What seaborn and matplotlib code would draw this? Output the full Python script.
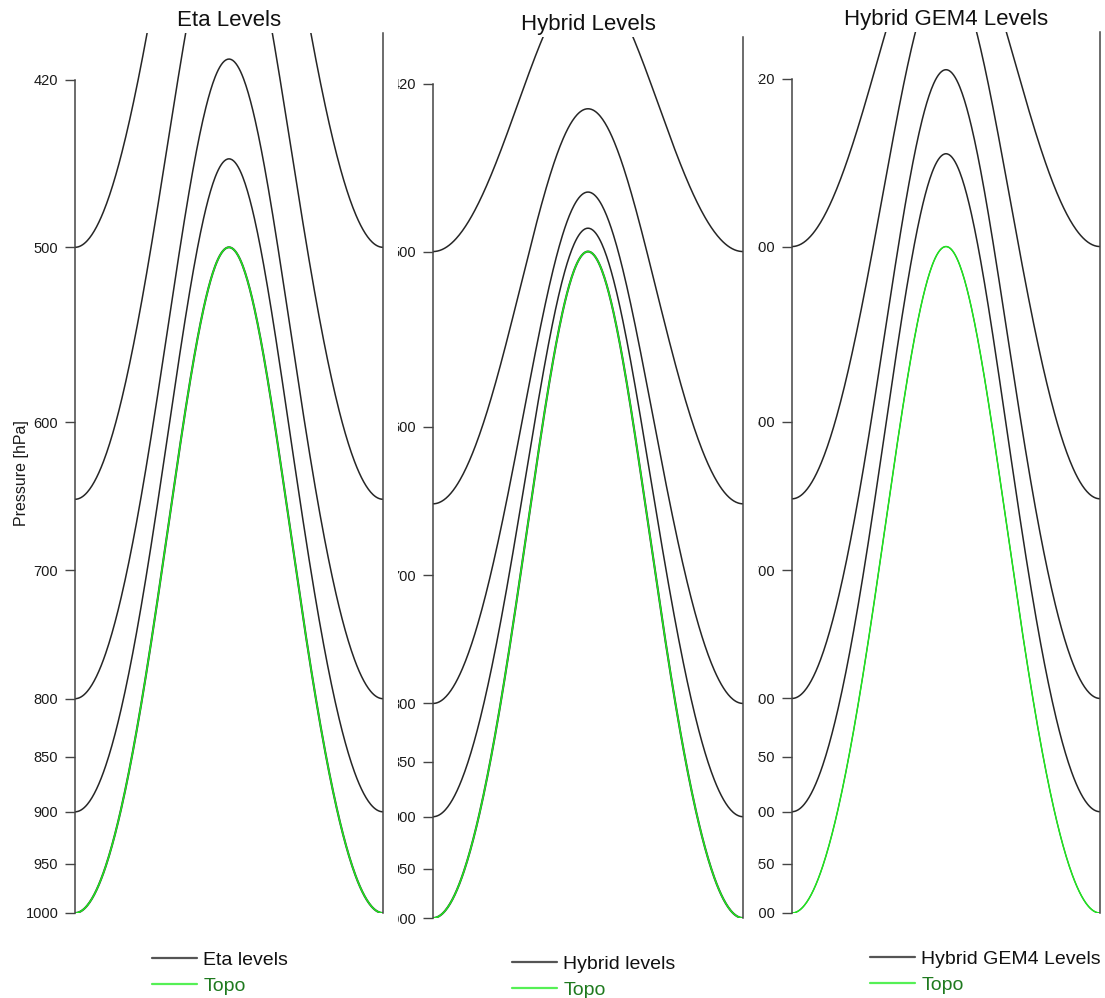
import numpy as np
import pandas as pd
import matplotlib
matplotlib.use("Agg")
import matplotlib.pyplot as plt
from matplotlib.lines import Line2D
from matplotlib.transforms import Bbox, TransformedBbox
import seaborn as sns

# Idealised cosine mountain: surface pressure at the valley edges and at the summit
P_SURF_EDGE = 1000.0
P_SURF_PEAK = 500.0

# Model levels: pressure over the flat edges and over the summit (hPa)
LEVEL_EDGE = [500, 650, 800, 900, 1000]
ETA_PEAK = [278, 344, 411, 456, 500]
HYBRID_PEAK = [376, 431, 470, 488, 500]
GEM4_PEAK = [350, 374, 416, 454, 500]

PANEL_TITLES = ["Eta Levels", "Hybrid Levels", "Hybrid GEM4 Levels"]
LEGEND_LABELS = ["Eta levels", "Hybrid levels", "Hybrid GEM4 Levels"]
Y_TICKS = [420, 500, 600, 700, 800, 850, 900, 950, 1000]
Y_LIMITS = (400, 1000)

sns.set_theme(style="white")
plt.rcParams["font.family"] = ["Liberation Sans", "DejaVu Sans"]

x = np.linspace(0.0, 1.0, 401)
p_mean = 0.5 * (P_SURF_EDGE + P_SURF_PEAK)
p_amp = 0.5 * (P_SURF_EDGE - P_SURF_PEAK)
p_surf = p_mean + p_amp * np.cos(2 * np.pi * x)
# fraction of the mountain height at each column (0 at the edges, 1 at the summit)
frac = (P_SURF_EDGE - p_surf) / (P_SURF_EDGE - P_SURF_PEAK)


def level_frame(peaks):
    rows = []
    for k, (pe, pp) in enumerate(zip(LEVEL_EDGE, peaks)):
        p = pe + (pp - pe) * frac
        rows.append(pd.DataFrame({"x": x, "p": p, "level": k}))
    return pd.concat(rows, ignore_index=True)


fig = plt.figure(figsize=(11.05, 9.98), dpi=100)
W, H = 1105.0, 998.0

# axes boxes in pixels: left, right, top, bottom
boxes = [(75, 383, 33, 913), (433, 743, 37, 918), (792, 1100, 32, 913)]
label_clip_x = [None, 397.5, 758]
legend_anchor = [(152, 951), (512, 955), (870, 950)]
peaks_all = [ETA_PEAK, HYBRID_PEAK, GEM4_PEAK]

line_col = "#262626"
topo_col = "#1ee81e"
spine_col = "#444444"

axes = []
for i in range(3):
    l, r, t, b = boxes[i]
    ax = fig.add_axes([l / W, 1 - b / H, (r - l) / W, (b - t) / H])
    ax.set_facecolor("none")
    axes.append(ax)
    df = level_frame(peaks_all[i])

    surf = df[df["level"] == len(LEVEL_EDGE) - 1]
    upper = df[df["level"] < len(LEVEL_EDGE) - 1]
    sns.lineplot(data=upper, x="x", y="p", units="level", estimator=None,
                 sort=False, color=line_col, lw=1.1, ax=ax, legend=False)
    sns.lineplot(data=surf, x="x", y="p", estimator=None, sort=False,
                 color="#333333", lw=1.5 if i < 2 else 0.8, ax=ax, legend=False)
    sns.lineplot(x=x, y=p_surf, estimator=None, sort=False,
                 color=topo_col, lw=1.1, ax=ax, legend=False)

    ax.set_yscale("log")
    ax.set_ylim(Y_LIMITS[1], Y_LIMITS[0])
    ax.set_xlim(0, 1)
    ax.set_yticks(Y_TICKS)
    ax.set_yticklabels([str(v) for v in Y_TICKS])
    ax.yaxis.set_minor_locator(matplotlib.ticker.NullLocator())
    ax.set_xticks([])
    ax.set_xlabel("")
    ax.set_ylabel("")
    ax.tick_params(axis="y", which="major", left=True, right=False,
                   length=7, width=1.0, pad=5, labelsize=10.5,
                   color=spine_col, labelcolor="#1a1a1a")
    for side in ("top", "bottom"):
        ax.spines[side].set_visible(False)
    for side in ("left", "right"):
        ax.spines[side].set_visible(True)
        ax.spines[side].set_color(spine_col)
        ax.spines[side].set_linewidth(1.1)
    ax.spines["left"].set_bounds(Y_TICKS[0], Y_TICKS[-1])

    ax.set_title(PANEL_TITLES[i], fontsize=16, pad=5, color="#111111")

    handles = [Line2D([], [], color="#555555", lw=1.6),
               Line2D([], [], color="#55f055", lw=1.6)]
    ax_, ay_ = legend_anchor[i]
    leg = fig.legend(handles, [LEGEND_LABELS[i], "Topo"],
                     loc="upper left", bbox_to_anchor=(ax_ / W, 1 - ay_ / H),
                     frameon=False, fontsize=14, handlelength=2.3,
                     handletextpad=0.33, labelspacing=0.43, borderpad=0,
                     borderaxespad=0)
    leg.get_texts()[0].set_color("#111111")
    leg.get_texts()[1].set_color("#1f7a1f")

axes[0].set_ylabel("Pressure [hPa]", fontsize=11.5, color="#1a1a1a")
axes[0].yaxis.set_label_coords(-0.15, 0.5)

fig.canvas.draw()
for i, ax in enumerate(axes):
    cx = label_clip_x[i]
    if cx is None:
        continue
    clip = TransformedBbox(Bbox([[cx / W, 0.0], [1.0, 1.0]]), fig.transFigure)
    for tick in ax.yaxis.get_major_ticks():
        tick.label1.set_clip_on(True)
        tick.label1.set_clip_box(clip)

fig.savefig("out.png", dpi=100, facecolor="white")
